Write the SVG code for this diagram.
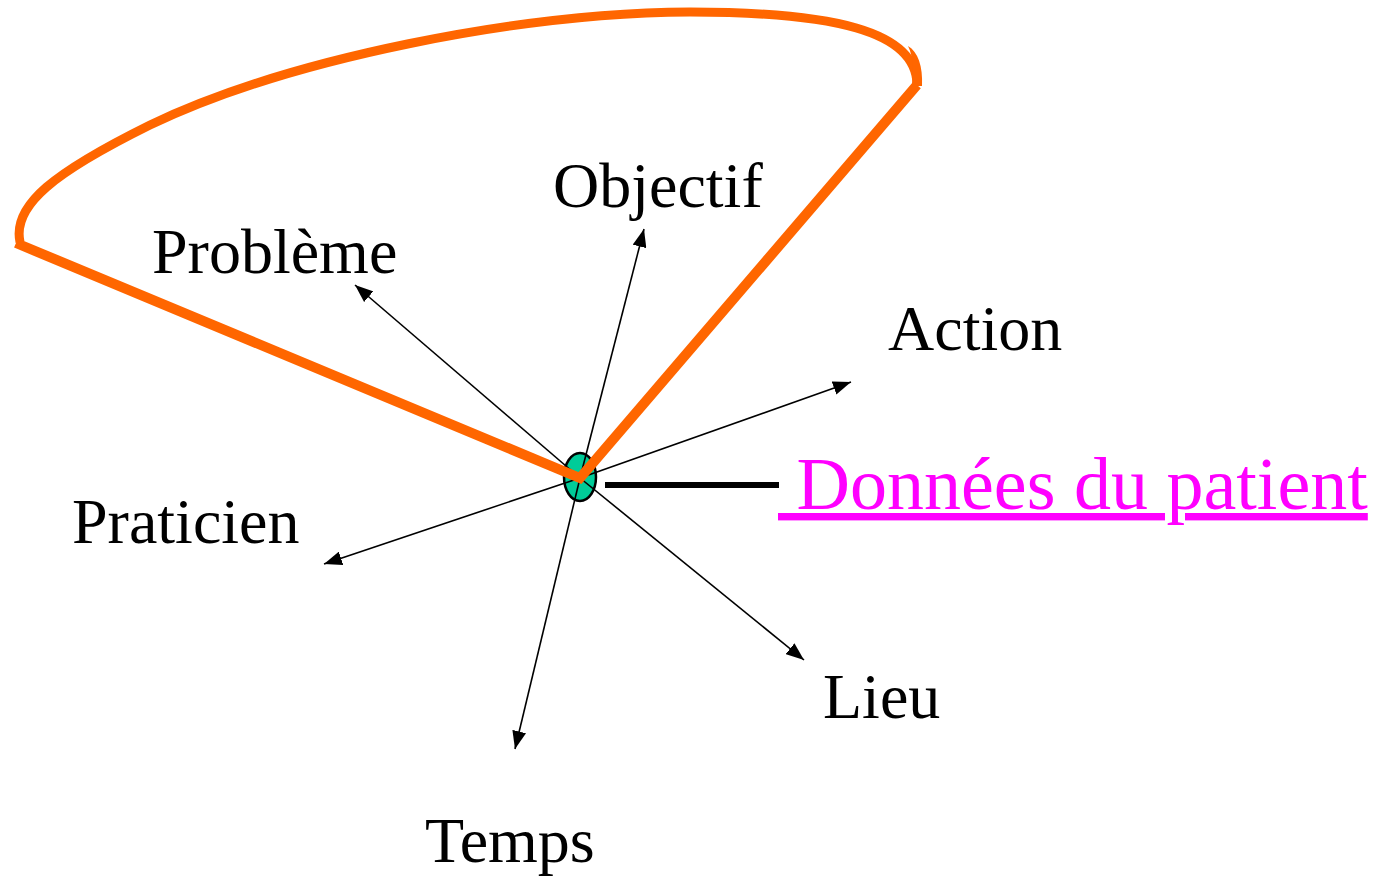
<svg xmlns="http://www.w3.org/2000/svg" width="1384" height="876" viewBox="0 0 1384 876">
<style>
.lbl{font-family:"Liberation Serif","Times New Roman",serif;font-size:64px;fill:#000}
.arr{stroke:#000;stroke-width:1.6;fill:none;marker-end:url(#ah)}
.org{stroke:#FF6600;fill:none;stroke-linejoin:miter;stroke-linecap:butt}
</style>
<defs>
<marker id="ah" markerUnits="userSpaceOnUse" markerWidth="20" markerHeight="14" refX="18" refY="7" orient="auto">
<path d="M0,0 L18,7 L0,14 Z" fill="#000"/>
</marker>
</defs>
<g id="center"><ellipse cx="580" cy="477" rx="16" ry="24" fill="#00CC99" stroke="#000" stroke-width="2.5"/></g>
<g id="connectors">
<line class="arr" x1="580" y1="478" x2="355" y2="285"/>
<line class="arr" x1="580" y1="478" x2="644" y2="229"/>
<line class="arr" x1="580" y1="478" x2="851" y2="382"/>
<line class="arr" x1="580" y1="478" x2="324" y2="564"/>
<line class="arr" x1="580" y1="478" x2="804" y2="660"/>
<line class="arr" x1="580" y1="478" x2="515" y2="749"/>
<line x1="605" y1="485" x2="779" y2="485" stroke="#000" stroke-width="6"/>
</g>
<g id="loop">
<path class="org" stroke-width="10" d="M16,243 L580,478 L917,85"/>
<path class="org" stroke-width="9" d="M917,86 C918,30 830,12 690,12 C520,13 290,58 150,125 C55,172 12,205 20,242"/>
<path fill="#FF6600" d="M912,86 L922,86 C923,66 918,52 908,46 C914,58 913,72 912,86 Z"/>
</g>
<g id="probleme"><text class="lbl" x="152" y="273">Problème</text></g>
<g id="objectif"><text class="lbl" x="553" y="207">Objectif</text></g>
<g id="action"><text class="lbl" x="888" y="350">Action</text></g>
<g id="praticien"><text class="lbl" x="72" y="543">Praticien</text></g>
<g id="lieu"><text class="lbl" x="823" y="718">Lieu</text></g>
<g id="temps"><text class="lbl" x="425" y="862">Temps</text></g>
<g id="donnees"><text xml:space="preserve" x="778" y="509" style="font-family:'Liberation Serif','Times New Roman',serif;font-size:74px;fill:#FF00FF;text-decoration:underline"> Données du patient</text></g>
</svg>
